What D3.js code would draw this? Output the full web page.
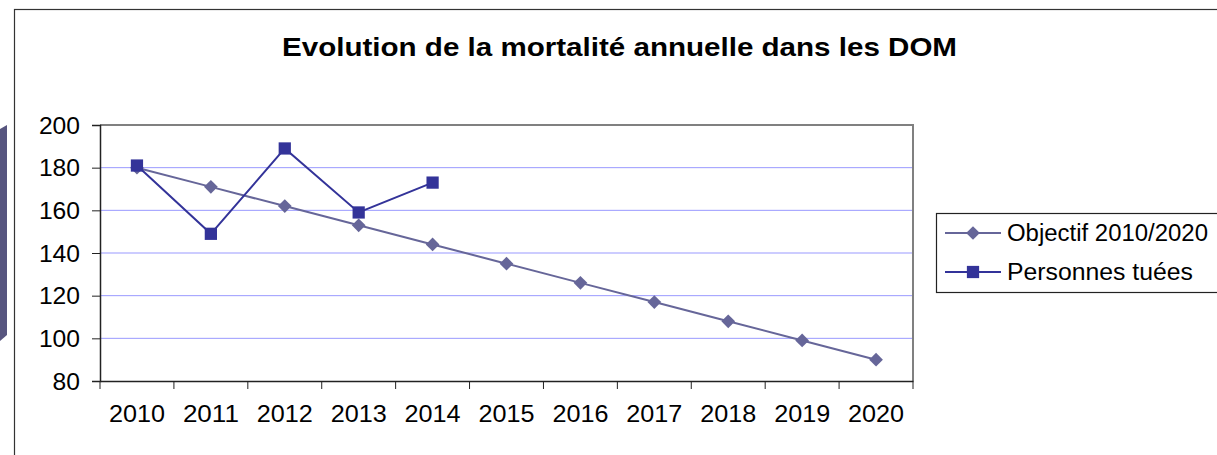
<!DOCTYPE html>
<html lang="fr">
<head>
    <meta charset="utf-8">
    <title>Mortalité DOM</title>
    <script type="text/javascript" src="https://cdn.jsdelivr.net/npm/d3@7"></script>
    <style>
        body { margin: 0; background: #fff; }
        svg text { font-family: "Liberation Sans", Arial, sans-serif; fill: #000; }
    </style>
</head>
<body>
    <svg width="1217" height="455"></svg>
    <script>
        var years = ["2010", "2011", "2012", "2013", "2014", "2015", "2016", "2017", "2018", "2019", "2020"];
        var objectif = [180, 171, 162, 153, 144, 135, 126, 117, 108, 99, 90];
        var tues = [181, 149, 189, 159, 173];
        var yTicks = [80, 100, 120, 140, 160, 180, 200];
        var seriesNames = ["Objectif 2010/2020", "Personnes tuées"];

        var svg = d3.select("svg");
        var pLeft = 100, pRight = 913, pTop = 125, pBottom = 381;
        var cObj = "#666699", cTue = "#333399";

        // cadre extérieur + bout de forme à gauche
        svg.append("rect").attr("x", 14.5).attr("y", 9.5).attr("width", 1300).attr("height", 500)
            .attr("fill", "none").attr("stroke", "#333").attr("stroke-width", 1.2);
        svg.append("polygon").attr("points", "0,129 7,125 7,335 0,341").attr("fill", "#57557f");

        // titre (le texte de l'original est un peu étiré en largeur)
        svg.append("text").attr("x", 282).attr("y", 56)
            .attr("textLength", 675).attr("lengthAdjust", "spacingAndGlyphs")
            .style("font-size", "25px").style("font-weight", "bold")
            .text("Evolution de la mortalité annuelle dans les DOM");

        var x = d3.scaleBand().domain(years).range([pLeft, pRight]);
        var y = d3.scaleLinear().domain([80, 200]).range([pBottom, pTop]);
        var cx = function (d, i) { return x(years[i]) + x.bandwidth() / 2; };

        // grille
        svg.append("g").selectAll("line").data(yTicks.slice(1, -1)).enter().append("line")
            .attr("x1", pLeft).attr("x2", pRight)
            .attr("y1", function (d) { return y(d); }).attr("y2", function (d) { return y(d); })
            .attr("stroke", "#9999ff").attr("stroke-width", 1);

        // bord de la zone de tracé (haut et droite, gris)
        svg.append("path").attr("d", "M" + pLeft + "," + pTop + "H" + pRight + "V" + pBottom)
            .attr("fill", "none").attr("stroke", "#808080").attr("stroke-width", 2);

        // axe Y
        var gy = svg.append("g").attr("transform", "translate(" + pLeft + ",0)")
            .call(d3.axisLeft(y).tickValues(yTicks).tickSize(8).tickPadding(12));
        gy.select(".domain").attr("stroke", "#222").attr("stroke-width", 1.5);
        gy.selectAll(".tick line").attr("stroke", "#222");
        gy.selectAll("text").style("font-size", "23px").attr("dy", "0.36em")
            .attr("textLength", function () { return this.textContent.length * 13.7; })
            .attr("lengthAdjust", "spacingAndGlyphs");

        // axe X
        var gx = svg.append("g").attr("transform", "translate(0," + pBottom + ")")
            .call(d3.axisBottom(x).tickSize(0).tickPadding(25));
        gx.select(".domain").attr("stroke", "#222").attr("stroke-width", 1.5);
        gx.selectAll("text").style("font-size", "23px")
            .attr("textLength", 56).attr("lengthAdjust", "spacingAndGlyphs");
        gx.selectAll(".sep").data(years.concat(["end"])).enter().append("line").attr("class", "sep")
            .attr("x1", function (d, i) { return i < years.length ? x(d) : pRight; })
            .attr("x2", function (d, i) { return i < years.length ? x(d) : pRight; })
            .attr("y1", 0).attr("y2", 8).attr("stroke", "#222");

        var line = d3.line().x(cx).y(function (d) { return y(d); });
        var diamond = d3.symbol().type(d3.symbolDiamond2).size(120);
        var square = d3.symbol().type(d3.symbolSquare).size(150);

        svg.append("path").datum(objectif).attr("d", line)
            .attr("fill", "none").attr("stroke", cObj).attr("stroke-width", 2);
        svg.append("g").selectAll("path").data(objectif).enter().append("path")
            .attr("d", diamond).attr("fill", cObj)
            .attr("transform", function (d, i) { return "translate(" + cx(d, i) + "," + y(d) + ")"; });

        svg.append("path").datum(tues).attr("d", line)
            .attr("fill", "none").attr("stroke", cTue).attr("stroke-width", 2);
        svg.append("g").selectAll("path").data(tues).enter().append("path")
            .attr("d", square).attr("fill", cTue)
            .attr("transform", function (d, i) { return "translate(" + cx(d, i) + "," + y(d) + ")"; });

        // légende
        svg.append("rect").attr("x", 936.5).attr("y", 213.5).attr("width", 400).attr("height", 79)
            .attr("fill", "#fff").attr("stroke", "#222").attr("stroke-width", 1.2);
        var leg = svg.append("g").selectAll("g").data(seriesNames).enter().append("g")
            .attr("transform", function (d, i) { return "translate(0," + (233 + i * 39) + ")"; });
        leg.append("line").attr("x1", 945).attr("x2", 1001).attr("y1", 0).attr("y2", 0)
            .attr("stroke", function (d, i) { return i ? cTue : cObj; }).attr("stroke-width", 2);
        leg.append("path").attr("transform", "translate(973,0)")
            .attr("d", function (d, i) { return i ? square() : diamond(); })
            .attr("fill", function (d, i) { return i ? cTue : cObj; });
        leg.append("text").attr("x", 1007).attr("dy", "0.36em").style("font-size", "23px")
            .attr("textLength", function (d, i) { return i ? 186 : 201; })
            .attr("lengthAdjust", "spacingAndGlyphs")
            .text(function (d) { return d; });
    </script>
</body>
</html>
